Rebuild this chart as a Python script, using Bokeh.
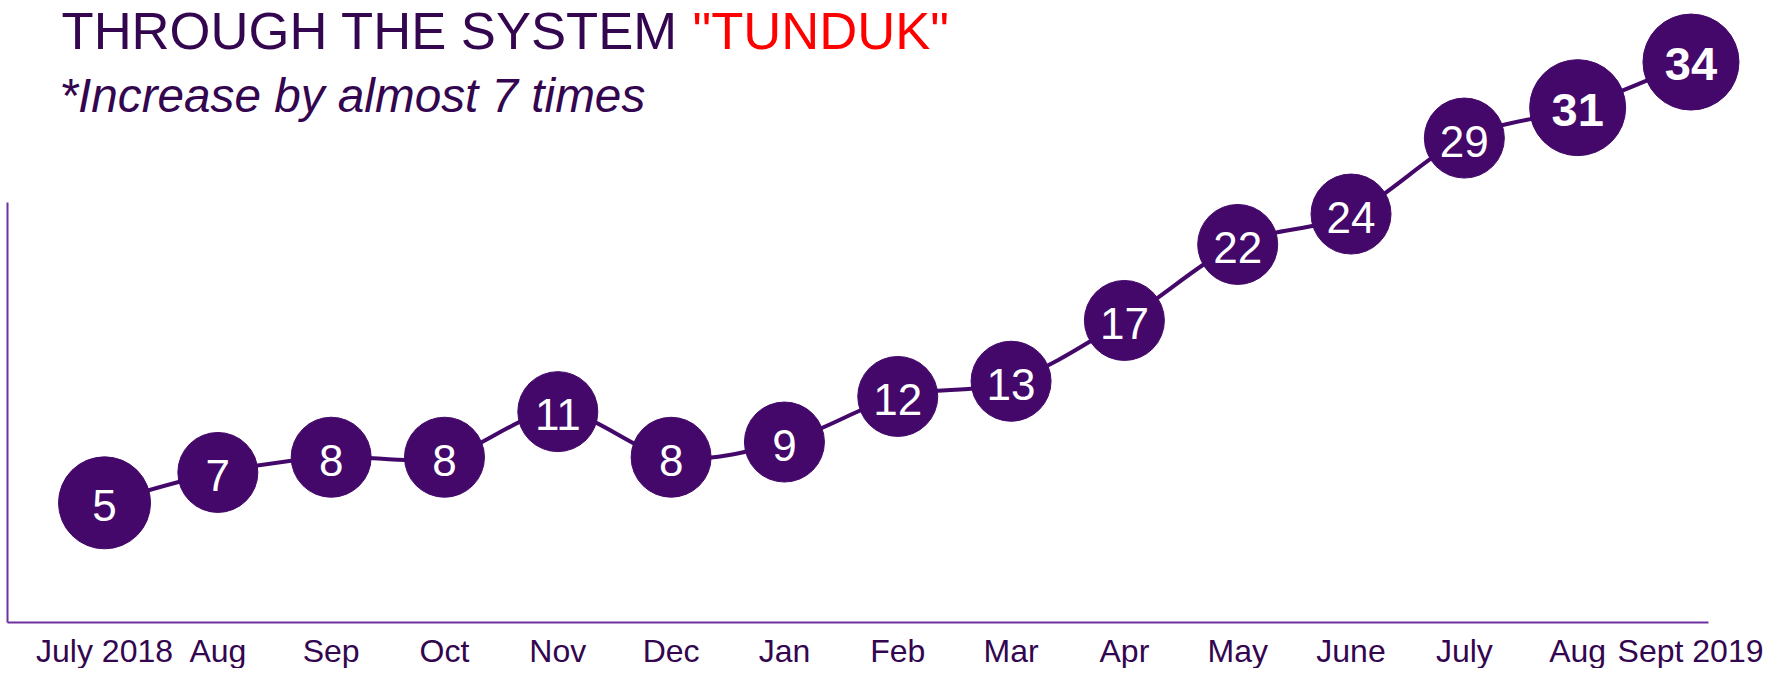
from bokeh.plotting import figure
from bokeh.models import Range1d, LinearAxis, FixedTicker, Label, ColumnDataSource
from bokeh.core.properties import value
from bokeh.embed import file_html
from bokeh.resources import INLINE

# ---- data ----
months = ["July 2018", "Aug", "Sep", "Oct", "Nov", "Dec", "Jan", "Feb",
          "Mar", "Apr", "May", "June", "July", "Aug", "Sept 2019"]
values = [5, 7, 8, 8, 11, 8, 9, 12, 13, 17, 22, 24, 29, 31, 34]
bold_from = 13  # last two values shown in bold
title_main = "THROUGH THE SYSTEM "
title_red = "\"TUNDUK\""
subtitle = "*Increase by almost 7 times"

DARK = "#44086A"
TEXT = "#33064F"
AXIS = "#7030A0"
FONT = "Liberation Sans"

W, H = 1763, 668
idx = list(range(len(values)))

X0, X1 = -0.918, 14.64
Y0, Y1 = -5.90, 38.05
AX_Y = -2.87      # value where the horizontal axis sits
AX_X = -0.856     # index where the vertical axis sits

p = figure(width=W, height=H, output_backend="svg", toolbar_location=None,
           x_range=Range1d(X0, X1), y_range=Range1d(Y0, Y1),
           min_border_left=0, min_border_right=0, min_border_top=0, min_border_bottom=0,
           x_axis_type=None, y_axis_type=None)
p.outline_line_color = None
p.grid.visible = False
p.background_fill_color = "white"
p.border_fill_color = "white"

# bottom axis
xa = LinearAxis(ticker=FixedTicker(ticks=idx), bounds=(AX_X, 14.157), fixed_location=AX_Y)
xa.major_label_overrides = {i: m for i, m in enumerate(months)}
xa.axis_line_color = AXIS
xa.axis_line_width = 2
xa.major_tick_line_color = None
xa.minor_tick_line_color = None
xa.major_tick_out = 0
xa.major_tick_in = 0
xa.major_label_standoff = 11
xa.major_label_text_font = FONT
xa.major_label_text_font_size = "32px"
xa.major_label_text_color = TEXT
p.add_layout(xa, "below")

# left axis
ya = LinearAxis(ticker=FixedTicker(ticks=[]), bounds=(AX_Y, 24.76), fixed_location=AX_X)
ya.axis_line_color = AXIS
ya.axis_line_width = 2
ya.major_tick_line_color = None
ya.minor_tick_line_color = None
ya.major_tick_out = 0
ya.major_tick_in = 0
ya.major_label_standoff = 0
ya.major_label_text_font_size = "0px"
p.add_layout(ya, "left")

# smooth curve (Catmull-Rom -> cubic bezier) through the data points
n = len(values)
x0, y0, x1, y1, cx0, cy0, cx1, cy1 = [], [], [], [], [], [], [], []
for i in range(n - 1):
    xp, yp = (idx[i - 1], values[i - 1]) if i > 0 else (idx[i], values[i])
    xn, yn = (idx[i + 2], values[i + 2]) if i + 2 < n else (idx[i + 1], values[i + 1])
    x0.append(idx[i]); y0.append(values[i])
    x1.append(idx[i + 1]); y1.append(values[i + 1])
    cx0.append(idx[i] + (idx[i + 1] - xp) / 6.0)
    cy0.append(values[i] + (values[i + 1] - yp) / 6.0)
    cx1.append(idx[i + 1] - (xn - idx[i]) / 6.0)
    cy1.append(values[i + 1] - (yn - values[i]) / 6.0)
p.bezier(x0=x0, y0=y0, x1=x1, y1=y1, cx0=cx0, cy0=cy0, cx1=cx1, cy1=cy1,
         line_color=DARK, line_width=4)

sizes = [92 if i == 0 else (96 if i >= bold_from else 80) for i in idx]
src = ColumnDataSource(dict(x=idx, y=values, s=sizes))
p.scatter("x", "y", size="s", source=src, marker="circle",
          fill_color=DARK, line_color=DARK)

reg = ColumnDataSource(dict(x=idx[:bold_from], y=values[:bold_from],
                            t=[str(v) for v in values[:bold_from]]))
bld = ColumnDataSource(dict(x=idx[bold_from:], y=values[bold_from:],
                            t=[str(v) for v in values[bold_from:]]))
p.text("x", "y", text="t", source=reg, text_color="white", text_align="center",
       text_baseline="middle", text_font=value(FONT), text_font_size="44px", y_offset=3)
p.text("x", "y", text="t", source=bld, text_color="white", text_align="center",
       text_baseline="middle", text_font=value(FONT), text_font_size="47px",
       text_font_style="bold", y_offset=2)

# titles, placed in screen pixels from the frame's bottom-left (frame = whole canvas)
p.add_layout(Label(x=61, y=H - 30, x_units="screen", y_units="screen",
                   text=title_main, text_font=FONT, text_font_size="52.6px",
                   text_color=TEXT, text_baseline="alphabetic"))
p.add_layout(Label(x=692, y=H - 30, x_units="screen", y_units="screen",
                   text=title_red, text_font=FONT, text_font_size="52.6px",
                   text_color="#FF0000", text_baseline="alphabetic"))
p.add_layout(Label(x=59, y=H - 95, x_units="screen", y_units="screen",
                   text=subtitle, text_font=FONT, text_font_size="47.7px",
                   text_font_style="italic", text_color=TEXT, text_baseline="alphabetic"))

open("out.html", "w").write(file_html(p, INLINE))
